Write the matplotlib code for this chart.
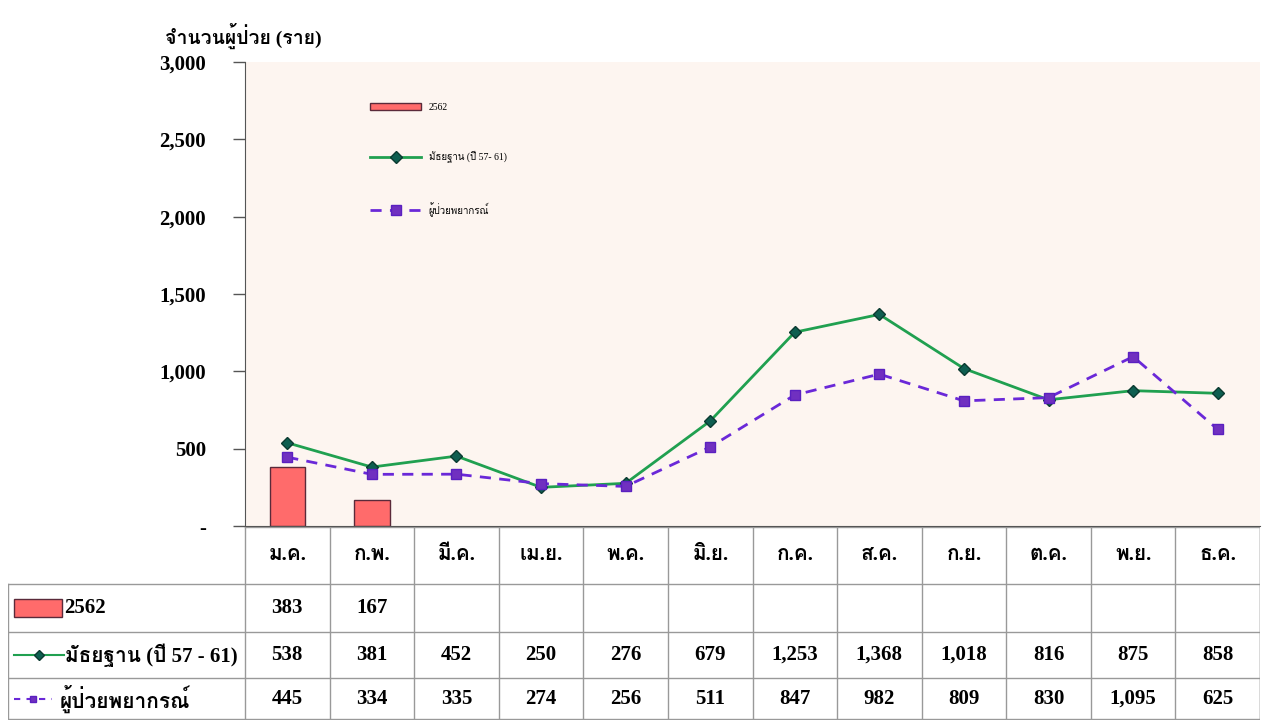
import matplotlib
matplotlib.use("Agg")
import matplotlib.pyplot as plt
from matplotlib import font_manager
from matplotlib.patches import Rectangle
from matplotlib.lines import Line2D
from fontTools.ttLib import TTFont

months = ["ม.ค.", "ก.พ.", "มี.ค.", "เม.ย.", "พ.ค.", "มิ.ย.",
          "ก.ค.", "ส.ค.", "ก.ย.", "ต.ค.", "พ.ย.", "ธ.ค."]
cases_2562 = [383, 167]
median_57_61 = [538, 381, 452, 250, 276, 679, 1253, 1368, 1018, 816, 875, 858]
forecast = [445, 334, 335, 274, 256, 511, 847, 982, 809, 830, 1095, 625]
label_2562 = "2562"
label_median = "มัธยฐาน (ปี 57 - 61)"
label_median_leg = "มัธยฐาน (ปี 57- 61)"
label_forecast = "ผู้ป่วยพยากรณ์"
ylabel = "จำนวนผู้ป่วย (ราย)"

# look for any installed font that has Thai glyphs
thai_font = None
for f in font_manager.fontManager.ttflist:
    try:
        tt = TTFont(f.fname, fontNumber=0, lazy=True)
        if 0x0E01 in tt.getBestCmap():
            thai_font = f.name
            break
    except Exception:
        pass
fams = ["Liberation Serif"] + ([thai_font] if thai_font else []) + ["DejaVu Sans"]
plt.rcParams["font.family"] = fams

W, H = 1267, 720
fig = plt.figure(figsize=(W / 100, H / 100), dpi=100)

def box(x0, y0, x1, y1):
    return [x0 / W, 1 - y1 / H, (x1 - x0) / W, (y1 - y0) / H]

bar_c = "#FF6B6B"
green = "#20A050"
purple = "#6A28D8"

ax = fig.add_axes(box(245, 62, 1260, 526))
ax.set_facecolor("#FDF5F0")
x = list(range(len(months)))
bars = ax.bar(x[:len(cases_2562)], cases_2562, width=0.42, color=bar_c,
              edgecolor="#5A2A3A", linewidth=1, label=label_2562, zorder=2)
l1, = ax.plot(x, median_57_61, color=green, lw=2, marker="D", ms=6,
              mfc="#0E5E50", mec="#0A3A30", label=label_median_leg, zorder=3)
l2, = ax.plot(x, forecast, color=purple, lw=2, ls=(0, (4, 3)), marker="s", ms=6.5,
              mfc="#7030C0", mec="#5A20C0", label=label_forecast, zorder=4)
ax.set_xlim(-0.5, 11.5)
ax.set_ylim(0, 3000)
ax.set_yticks(range(0, 3001, 500))
ax.set_yticklabels(["-"] + [f"{v:,}" for v in range(500, 3001, 500)],
                   fontsize=15, fontweight="bold")
ax.tick_params(axis="y", length=9, width=1, color="#555555", pad=19)
ax.set_xticks([])
for s in ["top", "right"]:
    ax.spines[s].set_visible(False)
ax.spines["left"].set_color("#555555")
ax.spines["bottom"].set_color("#555555")
ax.legend(handles=[bars, l1, l2], loc="upper left", bbox_to_anchor=(0.115, 0.93),
          frameon=False, fontsize=7, labelspacing=4.0, handlelength=5.2)
fig.text(165 / W, 1 - 36 / H, ylabel, fontsize=14, fontweight="bold",
         va="center", ha="left")

# data table under the chart
tx = fig.add_axes(box(8, 527, 1260, 720))
lab_w = (245 - 8) / ((1260 - 245) / 12)
tx.set_xlim(-0.5 - lab_w, 11.5)
tx.set_ylim(720, 527)
tx.axis("off")
rows = [527, 584, 632, 678, 719]
lc = "#999999"
for r in rows[1:]:
    tx.plot([-0.5 - lab_w, 11.5], [r, r], color=lc, lw=1)
tx.plot([-0.5, 11.5], [rows[0], rows[0]], color=lc, lw=1)
for i in range(13):
    tx.plot([i - 0.5, i - 0.5], [rows[0], rows[-1]], color=lc, lw=1)
tx.plot([11.5, 11.5], [rows[0], rows[-1]], color=lc, lw=1)
tx.plot([-0.5 - lab_w] * 2, [rows[1], rows[-1]], color=lc, lw=1)

for i, m in enumerate(months):
    tx.text(i, (rows[0] + rows[1]) / 2, m, ha="center", va="center",
            fontsize=15, fontweight="bold")
series = [cases_2562, median_57_61, forecast]
for k, vals in enumerate(series):
    yc = (rows[k + 1] + rows[k + 2]) / 2
    for i, v in enumerate(vals):
        tx.text(i, yc, f"{v:,}", ha="center", va="center",
                fontsize=15, fontweight="bold")

x0 = -0.5 - lab_w
u = 1 / ((1260 - 245) / 12)
y1 = (rows[1] + rows[2]) / 2
tx.add_patch(Rectangle((x0 + 6 * u, y1 - 9), 48 * u, 18, facecolor=bar_c,
                       edgecolor="#5A2A3A", lw=1))
tx.text(x0 + 56 * u, y1, label_2562, va="center", fontsize=15, fontweight="bold")
y2 = (rows[2] + rows[3]) / 2
tx.add_line(Line2D([x0 + 6 * u, x0 + 56 * u], [y2, y2], color=green, lw=1.5))
tx.plot([x0 + 31 * u], [y2], marker="D", ms=5, mfc="#0E5E50", mec="#0A3A30")
tx.text(x0 + 57 * u, y2, label_median, va="center", fontsize=15, fontweight="bold")
y3 = (rows[3] + rows[4]) / 2
tx.add_line(Line2D([x0 + 6 * u, x0 + 44 * u], [y3, y3], color=purple, lw=1.5,
                   ls=(0, (3, 3))))
tx.plot([x0 + 25 * u], [y3], marker="s", ms=5, mfc="#7030C0", mec="#5A20C0")
tx.text(x0 + 52 * u, y3, label_forecast, va="center", fontsize=15, fontweight="bold")

fig.savefig("out.png", dpi=100)
